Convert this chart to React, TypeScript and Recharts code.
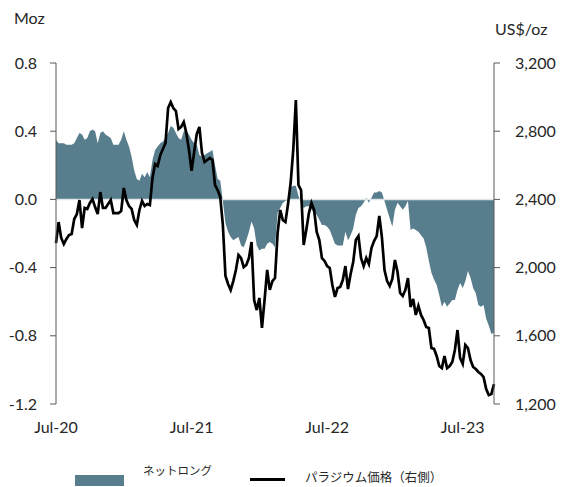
import React from 'react';
import {
  ComposedChart,
  Area,
  Line,
  XAxis,
  YAxis,
  ReferenceLine,
} from 'recharts';

// weekly, Jul-20 .. Sep-23
const netLong = [
  0.35, 0.33, 0.33, 0.33, 0.32, 0.32, 0.32, 0.33, 0.36, 0.39,
  0.38, 0.35, 0.36, 0.40, 0.41, 0.40, 0.33, 0.39, 0.40, 0.38,
  0.37, 0.36, 0.32, 0.32, 0.32, 0.35, 0.40, 0.35, 0.31, 0.25,
  0.17, 0.12, 0.11, 0.15, 0.13, 0.16, 0.13, 0.23, 0.29, 0.31,
  0.33, 0.34, 0.36, 0.39, 0.43, 0.42, 0.39, 0.36, 0.35, 0.40,
  0.40, 0.38, 0.35, 0.33, 0.32, 0.26, 0.25, 0.26, 0.27, 0.28,
  0.29, 0.20, 0.12, 0.11, -0.01, -0.14, -0.19, -0.22, -0.24, -0.23,
  -0.22, -0.27, -0.28, -0.24, -0.19, -0.13, -0.17, -0.27, -0.30, -0.29,
  -0.29, -0.26, -0.25, -0.26, -0.28, -0.08, -0.05, -0.02, -0.01, 0.0,
  0.07, 0.08, 0.08, 0.02, -0.02, -0.05, -0.04, -0.04, -0.06, -0.08,
  -0.09, -0.12, -0.15, -0.15, -0.16, -0.18, -0.22, -0.26, -0.27, -0.27,
  -0.27, -0.19, -0.24, -0.21, -0.17, -0.09, -0.05, -0.04, -0.02, 0.01,
  -0.02, 0.01, 0.04, 0.04, 0.05, 0.04, -0.01, -0.06, -0.11, -0.16,
  -0.06, -0.02, -0.04, -0.06, -0.04, -0.01, -0.18, -0.17, -0.18, -0.19,
  -0.21, -0.23, -0.28, -0.36, -0.43, -0.47, -0.50, -0.56, -0.63, -0.60,
  -0.63, -0.61, -0.59, -0.59, -0.53, -0.49, -0.52, -0.48, -0.42, -0.46,
  -0.52, -0.55, -0.62, -0.63, -0.62, -0.70, -0.74, -0.79, -0.78,
];

const palladium = [
  2144, 2267, 2174, 2138, 2168, 2191, 2197, 2285, 2314, 2396,
  2232, 2350, 2344, 2379, 2402, 2355, 2314, 2443, 2350, 2350,
  2373, 2396, 2320, 2320, 2320, 2332, 2467, 2396, 2361, 2344,
  2279, 2250, 2338, 2391, 2361, 2373, 2367, 2525, 2608, 2596,
  2660, 2696, 2731, 2936, 2971, 2936, 2918, 2813, 2825, 2854,
  2789, 2690, 2567, 2678, 2784, 2825, 2672, 2619, 2631, 2643,
  2631, 2484, 2455, 2414, 2250, 1951, 1904, 1869, 1921, 1986,
  2074, 2056, 2003, 2015, 2056, 2150, 1810, 1751, 1822, 1646,
  1810, 1986, 1869, 1921, 1939, 2203, 2338, 2279, 2267, 2373,
  2496, 2690, 2983, 2484, 2455, 2133, 2221, 2320, 2379, 2338,
  2209, 2162, 2056, 2039, 2009, 1998, 1898, 1828, 1880, 1886,
  1927, 2009, 1874, 1962, 2033, 2162, 2185, 2056, 2009, 2056,
  2021, 2115, 2156, 2185, 2303, 2179, 1986, 1921, 1892, 1933,
  2045, 1974, 1851, 1833, 1869, 1939, 1769, 1816, 1722, 1775,
  1722, 1693, 1652, 1646, 1528, 1523, 1482, 1423, 1411, 1482,
  1411, 1423, 1446, 1517, 1634, 1470, 1435, 1546, 1528, 1458,
  1417, 1405, 1388, 1376, 1358, 1288, 1253, 1259, 1317,
];

const xTicks = [0, 52, 104, 156];
const xTickLabels = ['Jul-20', 'Jul-21', 'Jul-22', 'Jul-23'];
const leftTicks = [-1.2, -0.8, -0.4, 0, 0.4, 0.8];
const rightTicks = [1200, 1600, 2000, 2400, 2800, 3200];

const data = netLong.map((v, i) => ({ week: i, netLong: v, palladium: palladium[i] }));

const AREA = '#587e8e';
const AXIS = '#595959';
const TEXT = '#262626';
const FONT = 'Lato, "Noto Sans", sans-serif';
const CJK = '"Noto Sans CJK JP", "Noto Sans", sans-serif';

const tick = { fontSize: 16, fill: TEXT, fontFamily: FONT };

export default function App() {
  return (
    <div style={{ position: 'absolute', left: 0, top: 0, width: 561, height: 487, background: '#fff', overflow: 'hidden' }}>
      <div style={{ position: 'absolute', left: 14, top: 8, fontSize: 16, color: TEXT, fontFamily: FONT }}>Moz</div>
      <div style={{ position: 'absolute', left: 495, top: 19, fontSize: 16, color: TEXT, fontFamily: FONT }}>US$/oz</div>
      <ComposedChart
        width={561}
        height={487}
        data={data}
        margin={{ top: 63, right: 6, bottom: 53, left: 6 }}
      >
        <XAxis
          dataKey="week"
          type="number"
          domain={[0, netLong.length - 1]}
          ticks={xTicks}
          tickFormatter={(v) => xTickLabels[xTicks.indexOf(v)]}
          axisLine={false}
          tickLine={false}
          tickMargin={12}
          height={30}
          tick={tick}
        />
        <YAxis
          yAxisId="left"
          domain={[-1.2, 0.8]}
          ticks={leftTicks}
          tickFormatter={(v) => v.toFixed(1)}
          width={50}
          tickSize={6}
          tickMargin={13}
          axisLine={{ stroke: AXIS }}
          tickLine={{ stroke: AXIS }}
          tick={tick}
        />
        <YAxis
          yAxisId="right"
          orientation="right"
          domain={[1200, 3200]}
          ticks={rightTicks}
          tickFormatter={(v) => v.toLocaleString('en-US')}
          width={61}
          tickSize={6}
          tickMargin={15}
          axisLine={{ stroke: AXIS }}
          tickLine={{ stroke: AXIS }}
          tick={{ ...tick, textAnchor: 'start' }}
        />
        <Area
          yAxisId="left"
          type="linear"
          dataKey="netLong"
          baseValue={0}
          stroke="none"
          fill={AREA}
          fillOpacity={1}
          isAnimationActive={false}
        />
        <ReferenceLine yAxisId="left" y={0} stroke="#dfe5e8" strokeWidth={1.5} />
        <Line
          yAxisId="right"
          type="linear"
          dataKey="palladium"
          stroke="#000"
          strokeWidth={2.7}
          dot={false}
          isAnimationActive={false}
        />
      </ComposedChart>
      <div style={{ position: 'absolute', left: 75, top: 475, width: 49, height: 11, background: AREA }} />
      <div style={{ position: 'absolute', left: 143, top: 463, fontSize: 11.5, lineHeight: '15px', color: TEXT, fontFamily: CJK }}>
        ネットロング
      </div>
      <div style={{ position: 'absolute', left: 250, top: 478, width: 35, height: 2.5, background: '#000' }} />
      <div style={{ position: 'absolute', left: 305, top: 469, fontSize: 12.5, lineHeight: '15px', color: TEXT, fontFamily: CJK }}>
        パラジウム価格（右側）
      </div>
    </div>
  );
}
